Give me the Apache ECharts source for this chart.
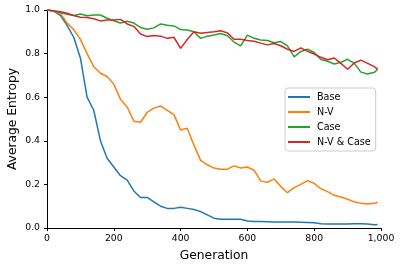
<!DOCTYPE html>
<html><head><meta charset="utf-8">
<script src="https://cdn.jsdelivr.net/npm/echarts@6/dist/echarts.min.js"></script>
<style>html,body{margin:0;padding:0;background:#fff}#c{width:401px;height:269px}</style>
</head><body><div id="c"></div>
<script>
var generations = [0,20,40,60,80,100,120,140,160,180,200,220,240,260,280,300,320,340,360,380,400,420,440,460,480,500,520,540,560,580,600,620,640,660,680,700,720,740,760,780,800,820,840,860,880,900,920,940,960,980,990];
var baseVals = [1.0,0.995,0.975,0.93,0.875,0.78,0.60,0.54,0.40,0.32,0.28,0.24,0.22,0.17,0.14,0.14,0.12,0.10,0.09,0.09,0.095,0.09,0.085,0.075,0.06,0.045,0.04,0.04,0.04,0.04,0.032,0.03,0.03,0.029,0.028,0.028,0.027,0.027,0.026,0.025,0.024,0.02,0.018,0.018,0.018,0.018,0.02,0.019,0.018,0.015,0.016];
var nvVals = [1.0,0.995,0.985,0.94,0.91,0.865,0.80,0.74,0.71,0.695,0.66,0.59,0.555,0.49,0.485,0.53,0.55,0.56,0.54,0.52,0.45,0.458,0.38,0.31,0.29,0.275,0.27,0.27,0.285,0.275,0.28,0.265,0.215,0.21,0.225,0.19,0.162,0.185,0.20,0.217,0.205,0.18,0.167,0.15,0.142,0.132,0.12,0.113,0.11,0.113,0.118];
var caseVals = [1.0,0.995,0.988,0.98,0.975,0.982,0.974,0.977,0.977,0.962,0.951,0.94,0.948,0.94,0.92,0.912,0.918,0.936,0.93,0.927,0.91,0.908,0.90,0.87,0.88,0.885,0.892,0.882,0.853,0.835,0.885,0.87,0.862,0.86,0.85,0.855,0.835,0.785,0.81,0.82,0.805,0.773,0.765,0.752,0.76,0.774,0.755,0.715,0.706,0.714,0.728];
var nvCaseVals = [1.0,0.997,0.992,0.985,0.975,0.967,0.966,0.96,0.95,0.954,0.954,0.957,0.936,0.925,0.89,0.878,0.883,0.88,0.87,0.875,0.824,0.865,0.90,0.893,0.897,0.90,0.905,0.895,0.866,0.866,0.86,0.857,0.848,0.84,0.846,0.836,0.82,0.81,0.826,0.81,0.798,0.783,0.772,0.78,0.755,0.728,0.757,0.77,0.755,0.74,0.728];
var seriesNames = ['Base','N-V','Case','N-V & Case'];
var colors = ['#1f77b4','#ff7f0e','#2ca02c','#d62728'];

function pairs(v){ return generations.map(function(g,i){ return [g, v[i]]; }); }
var allVals = [baseVals, nvVals, caseVals, nvCaseVals];
var font = 'DejaVu Sans';
var chart = echarts.init(document.getElementById('c'), null, {renderer:'canvas'});
chart.setOption({
  animation:false,
  color: colors,
  grid:{left:47,right:20,top:10,bottom:41,containLabel:false,outerBoundsMode:'none'},
  xAxis:{type:'value',min:0,max:1000,interval:200,
    name:'Generation',nameLocation:'middle',nameGap:22,
    nameTextStyle:{fontFamily:font,fontSize:12.3,color:'#000'},
    axisLine:{show:true,lineStyle:{color:'#000',width:1}},
    axisTick:{show:true,length:3,lineStyle:{color:'#000'}},
    axisLabel:{fontFamily:font,fontSize:9.3,color:'#000',margin:6},
    splitLine:{show:false}},
  yAxis:{type:'value',min:0,max:1,interval:0.2,
    name:'Average Entropy',nameLocation:'middle',nameGap:28,nameMoveOverlap:false,
    nameTextStyle:{fontFamily:font,fontSize:12.3,color:'#000'},
    axisLine:{show:true,lineStyle:{color:'#000',width:1}},
    axisTick:{show:true,length:3,lineStyle:{color:'#000'}},
    axisLabel:{fontFamily:font,fontSize:9.3,color:'#000',margin:7,
      formatter:function(v){return v.toFixed(1);}},
    splitLine:{show:false}},
  legend:{orient:'vertical',left:285,top:88,icon:'rect',itemWidth:22,itemHeight:2,
    itemGap:3,padding:[3,5,3,3],borderColor:'#ccc',borderWidth:1,borderRadius:3,
    backgroundColor:'rgba(255,255,255,0.8)',
    textStyle:{fontFamily:font,fontSize:9.6,color:'#000',lineHeight:12,padding:[0,0,0,2]},
    data:seriesNames},
  series: seriesNames.map(function(n,i){
    return {name:n,type:'line',symbol:'none',data:pairs(allVals[i]),
      lineStyle:{width:1.5,color:colors[i]},itemStyle:{color:colors[i]}};
  })
});
</script></body></html>
